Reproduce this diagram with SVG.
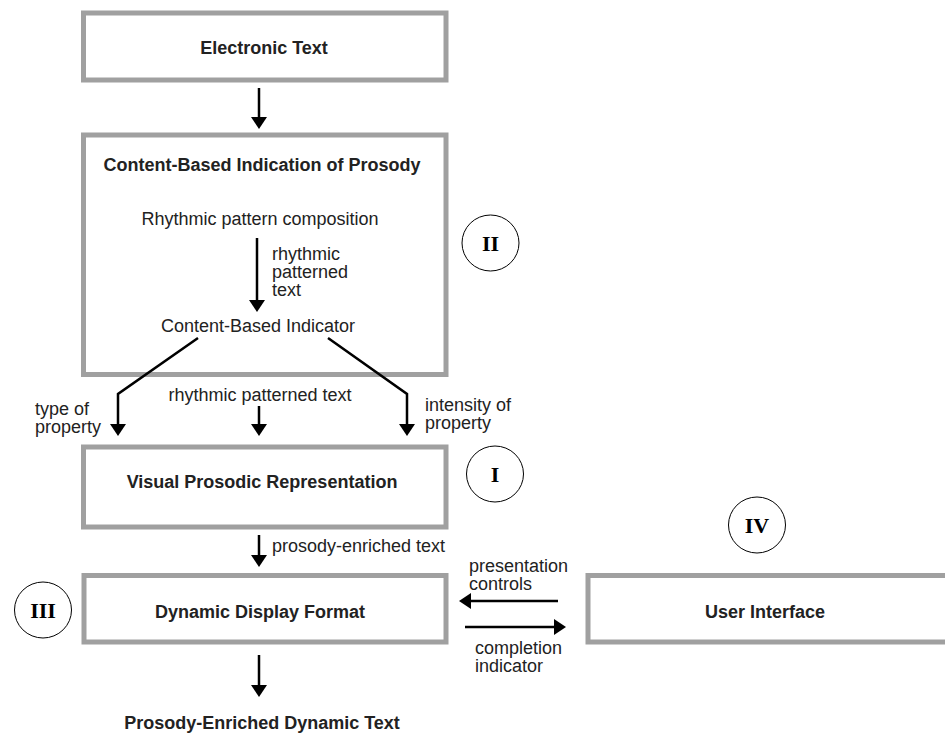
<svg xmlns="http://www.w3.org/2000/svg" width="945" height="734" viewBox="0 0 945 734">
<style>
.box{fill:#fff;stroke:#a0a0a0;stroke-width:5}
.t{font-family:"Liberation Sans",Arial,sans-serif;font-size:18px;fill:#222}
.b{font-weight:bold;text-anchor:middle}
.c{text-anchor:middle}
.ring{fill:#fff;stroke:#000;stroke-width:1}
.rn{font-family:"Liberation Serif","Times New Roman",serif;font-weight:bold;font-size:22px;text-anchor:middle;fill:#000}
.ar{fill:none;stroke:#000;stroke-width:2.5;marker-end:url(#ah)}
</style>
<defs>
<marker id="ah" viewBox="0 0 12 16" refX="0" refY="8" markerWidth="12" markerHeight="16" markerUnits="userSpaceOnUse" orient="auto">
<path d="M0,0 L12,8 L0,16 z" fill="#000"/>
</marker>
</defs>
<g id="electronic-text">
<rect class="box" x="83.5" y="13" width="362.5" height="67"/>
<text class="t b" x="264" y="54">Electronic Text</text>
</g>
<g id="content-based">
<rect class="box" x="83.5" y="135" width="362.5" height="239.5"/>
<text class="t b" x="262" y="171">Content-Based Indication of Prosody</text>
<text class="t c" x="260" y="225">Rhythmic pattern composition</text>
<text class="t" x="272" y="260">rhythmic</text>
<text class="t" x="272" y="278">patterned</text>
<text class="t" x="272" y="296">text</text>
<text class="t c" x="258" y="332">Content-Based Indicator</text>
</g>
<g id="visual-prosodic">
<rect class="box" x="83.5" y="447" width="362.5" height="80"/>
<text class="t b" x="262" y="488">Visual Prosodic Representation</text>
</g>
<g id="dynamic-display">
<rect class="box" x="84" y="575.5" width="362" height="66.5"/>
<text class="t b" x="260" y="618">Dynamic Display Format</text>
</g>
<g id="user-interface">
<rect class="box" x="588" y="575.5" width="362" height="66.5"/>
<text class="t b" x="765" y="618">User Interface</text>
</g>
<g id="output">
<text class="t b" x="262" y="729">Prosody-Enriched Dynamic Text</text>
</g>
<g id="circle-II"><ellipse class="ring" cx="490.5" cy="243" rx="28.5" ry="28"/><text class="rn" x="490.5" y="250.5">II</text></g>
<g id="circle-I"><ellipse class="ring" cx="495" cy="474" rx="28.5" ry="28"/><text class="rn" x="495" y="481.5">I</text></g>
<g id="circle-IV"><ellipse class="ring" cx="757" cy="525" rx="28.5" ry="28"/><text class="rn" x="757" y="532.5">IV</text></g>
<g id="circle-III"><ellipse class="ring" cx="43" cy="610" rx="28.5" ry="28"/><text class="rn" x="43" y="617.5">III</text></g>
<g id="connectors">
<path class="ar" d="M259,88 V117"/>
<path class="ar" d="M257,238 V300"/>
<path class="ar" d="M198,338 L118,394 V424"/>
<path class="ar" d="M328,338 L407,394 V424"/>
<path class="ar" d="M259,406 V424"/>
<path class="ar" d="M259,535 V555"/>
<path class="ar" d="M558,601 H471"/>
<path class="ar" d="M465,627 H554"/>
<path class="ar" d="M259,655 V685"/>
<text class="t" x="35" y="415">type of</text>
<text class="t" x="35" y="433">property</text>
<text class="t c" x="260" y="401">rhythmic patterned text</text>
<text class="t" x="425" y="411">intensity of</text>
<text class="t" x="425" y="429">property</text>
<text class="t" x="272" y="552">prosody-enriched text</text>
<text class="t" x="469" y="572">presentation</text>
<text class="t" x="469" y="590">controls</text>
<text class="t" x="475" y="654">completion</text>
<text class="t" x="475" y="672">indicator</text>
</g>
</svg>
